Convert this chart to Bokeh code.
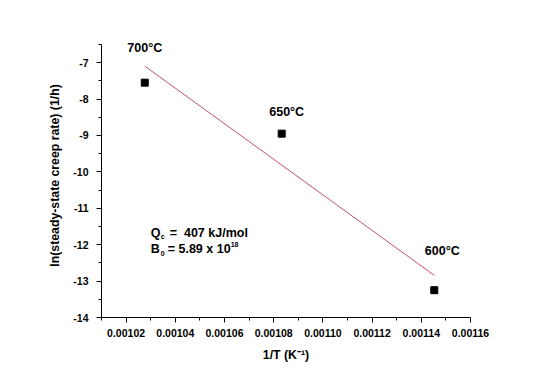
import numpy as np
from bokeh.plotting import figure
from bokeh.models import Range1d, FixedTicker, NumeralTickFormatter, Label, ColumnDataSource
from bokeh.embed import file_html
from bokeh.resources import INLINE

# data
inv_T = [1/973.15, 1/923.15, 1/873.15]          # 1/T (K^-1)
ln_rate = [-7.55, -8.95, -13.25]                 # ln(steady-state creep rate)
temp_labels = ["700°C", "650°C", "600°C"]
x_ticks = [0.00102, 0.00104, 0.00106, 0.00108, 0.00110, 0.00112, 0.00114, 0.00116]
x_minor = [0.00101, 0.00103, 0.00105, 0.00107, 0.00109, 0.00111, 0.00113, 0.00115]
y_ticks = [-14, -13, -12, -11, -10, -9, -8, -7]
y_minor = [-13.5, -12.5, -11.5, -10.5, -9.5, -8.5, -7.5, -6.5]

FONT = "Liberation Sans"

p = figure(width=550, height=385, output_backend="svg", toolbar_location=None,
           x_range=Range1d(0.00101, 0.00116), y_range=Range1d(-14, -6.2),
           min_border_left=101, min_border_right=80, min_border_top=33, min_border_bottom=68)
p.outline_line_color = None
p.xgrid.visible = False
p.ygrid.visible = False
p.background_fill_color = "white"
p.border_fill_color = "white"

for ax in (p.xaxis[0], p.yaxis[0]):
    ax.axis_line_color = "black"
    ax.major_tick_line_color = "black"
    ax.minor_tick_line_color = "black"
    ax.major_tick_out = 5
    ax.major_tick_in = 0
    ax.minor_tick_out = 3
    ax.minor_tick_in = 0
    ax.major_label_text_font = FONT
    ax.major_label_text_font_style = "bold"
    ax.major_label_text_font_size = "10.5px"
    ax.major_label_text_color = "black"
    ax.axis_label_text_font = FONT
    ax.axis_label_text_font_style = "bold"
    ax.axis_label_text_font_size = "12.3px"
    ax.axis_label_text_color = "black"

p.xaxis.ticker = FixedTicker(ticks=x_ticks, minor_ticks=x_minor)
p.xaxis.formatter = NumeralTickFormatter(format="0.00000")
p.xaxis.axis_label = "1/T (K\u207b\u00b9)"
p.xaxis.major_label_standoff = 6
p.xaxis.axis_label_standoff = 8

p.yaxis.ticker = FixedTicker(ticks=y_ticks, minor_ticks=y_minor)
p.yaxis.formatter = NumeralTickFormatter(format="0")
p.yaxis.bounds = (-14, -6.5)
p.yaxis.axis_label = "ln(steady-state creep rate) (1/h)"
p.yaxis.major_label_standoff = 8
p.yaxis.axis_label_standoff = 8

# linear fit
slope, intercept = np.polyfit(inv_T, ln_rate, 1)
fx = [inv_T[0], inv_T[-1]]
fy = [slope * v + intercept for v in fx]
p.line(fx, fy, line_color="#c05468", line_width=1)

src = ColumnDataSource(dict(x=inv_T, y=ln_rate, t=temp_labels))
p.scatter("x", "y", source=src, marker="square", size=7, color="black")

offsets = [(0, 35), (5, 22), (8, 39)]
for i, (dx, dy) in enumerate(offsets):
    p.add_layout(Label(x=inv_T[i], y=ln_rate[i], x_offset=dx, y_offset=dy, text=temp_labels[i],
                       text_font=FONT, text_font_style="bold", text_font_size="12.5px",
                       text_align="center", text_baseline="middle", text_color="black"))

# annotation texts
qx, qy = 0.00103, -11.67
by = -12.12
def lab(x, y, t, dx=0, dy=0, size="12.5px"):
    p.add_layout(Label(x=x, y=y, x_offset=dx, y_offset=dy, text=t, text_font=FONT,
                       text_font_style="bold", text_font_size=size, text_align="left",
                       text_baseline="middle", text_color="black"))

lab(qx, qy, "Q")
lab(qx, qy, "c", dx=10, dy=-4, size="7px")
lab(qx, qy, "=\u00a0\u00a0407 kJ/mol", dx=19)
lab(qx, by, "B")
lab(qx, by, "0", dx=10, dy=-4, size="7px")
lab(qx, by, "= 5.89 x 10", dx=17)
lab(qx, by, "18", dx=80, dy=5, size="7px")

open("out.html", "w").write(file_html(p, INLINE))
